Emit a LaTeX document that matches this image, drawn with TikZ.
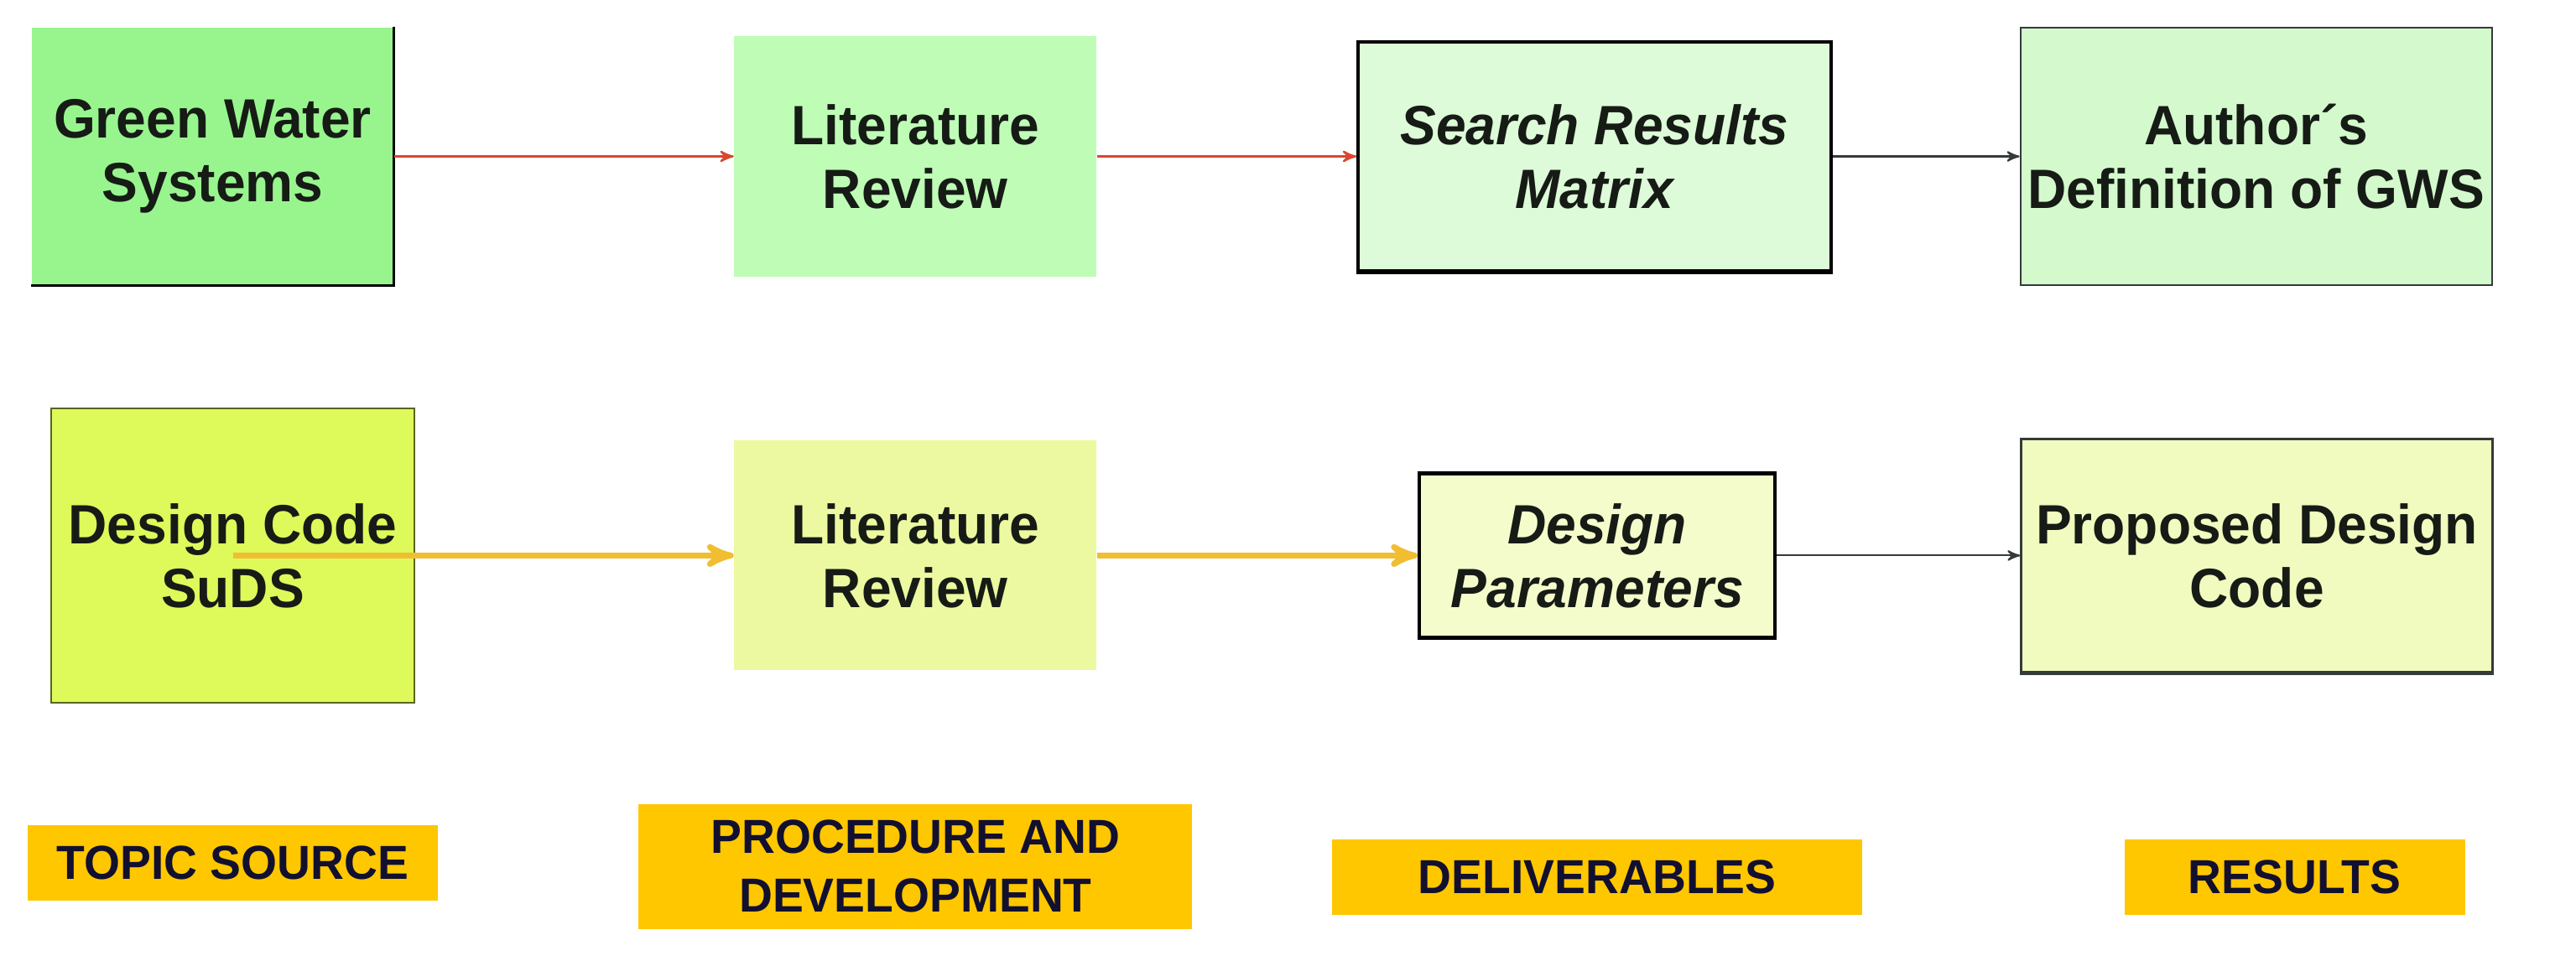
\documentclass[tikz,border=0pt]{standalone}
\usepackage{fontspec}
\setmainfont{Liberation Sans}[FakeStretch=0.97]
\usetikzlibrary{arrows,positioning}

\definecolor{gwsA}{HTML}{98F58E}
\definecolor{litA}{HTML}{BFFDB7}
\definecolor{matA}{HTML}{DDFBD8}
\definecolor{authA}{HTML}{D3F9CC}
\definecolor{sudsB}{HTML}{DEF95A}
\definecolor{litB}{HTML}{ECF9A0}
\definecolor{parB}{HTML}{F5FCCB}
\definecolor{propB}{HTML}{F1FBBF}
\definecolor{tagfill}{HTML}{FFC700}
\definecolor{tagtext}{HTML}{12102E}
\definecolor{boxtext}{HTML}{161B16}
\definecolor{arrred}{HTML}{D9482F}
\definecolor{arryel}{HTML}{F0BE30}
\definecolor{arrdark}{HTML}{353A3A}
\definecolor{sudsline}{HTML}{5A6420}

\begin{document}
\begin{tikzpicture}[>=stealth',
    box/.style={rectangle,inner sep=0pt,align=center,text=boxtext,font=\fontsize{18.8}{21.6}\selectfont\bfseries},
    tag/.style={rectangle,inner sep=0pt,align=center,fill=tagfill,text=tagtext,minimum height=0.9cm,font=\fontsize{16.2}{19.9}\selectfont\bfseries},
    redarr/.style={->,draw=arrred,line width=0.7pt},
    yelarr/.style={->,draw=arryel,line width=2pt},
    darkarr/.style={->,draw=arrdark,line width=0.6pt}]

  \useasboundingbox (0,0) rectangle (30.71,-11.39);

  % top row
  \node[box,fill=gwsA,minimum width=4.31cm,minimum height=3.07cm] (gws) at (2.535,-1.865) {Green Water\\Systems};
  \node[box,fill=litA,minimum width=4.32cm,minimum height=2.87cm] (lit) [right=4.05cm of gws] {Literature\\Review};
  \node[box,fill=matA,draw=black,line width=1pt,minimum width=5.64cm,minimum height=2.73cm,font=\fontsize{18.8}{21.6}\selectfont\bfseries\itshape] (mat) [right=3.09cm of lit] {Search Results\\Matrix};
  \node[box,fill=authA,draw=arrdark,line width=0.6pt,minimum width=5.62cm,minimum height=3.07cm] (auth) [right=2.23cm of mat] {Author´s\\Definition of GWS};

  % bottom row
  \node[box,fill=litB,minimum width=4.32cm,minimum height=2.74cm] (lit2) [below=1.94cm of lit] {Literature\\Review};
  \node[box,fill=sudsB,draw=sudsline,line width=0.4pt,minimum width=4.33cm,minimum height=3.51cm] (suds) [left=3.80cm of lit2] {Design Code\\SuDS};
  \node[box,fill=parB,draw=black,line width=1.2pt,minimum width=4.24cm,minimum height=1.96cm,font=\fontsize{18.8}{21.6}\selectfont\bfseries\itshape] (par) [right=3.82cm of lit2] {Design\\Parameters};
  \node[box,fill=propB,draw=arrdark,line width=0.7pt,minimum width=5.62cm,minimum height=2.78cm] (prop) [right=2.90cm of par] {Proposed Design\\Code};

  % column tags
  \node[tag,minimum width=4.89cm] (topic) [below=1.45cm of suds] {TOPIC SOURCE};
  \node[tag,minimum width=6.60cm,minimum height=1.49cm] (proc) [below=1.58cm of lit2] {PROCEDURE AND\\DEVELOPMENT};
  \node[tag,minimum width=6.32cm] (deliv) [below=2.38cm of par] {DELIVERABLES};
  \node[tag,minimum width=4.06cm] (res) [right=3.11cm of deliv] {RESULTS};

  % edges of the boxes
  \draw[black,line width=0.7pt] (gws.north east) -- (gws.south east) -- (gws.south west);
  \draw[black,line width=1.4pt] (mat.south west) -- (mat.south east);
  \draw[arrdark,line width=1.1pt] (prop.south west) -- (prop.south east);

  \path (gws) edge[redarr] (lit)
        (lit) edge[redarr] (mat)
        (mat) edge[darkarr] (auth)
        (suds.center) edge[yelarr] (lit2)
        (lit2) edge[yelarr] (par)
        (par) edge[darkarr] (prop);
\end{tikzpicture}
\end{document}
